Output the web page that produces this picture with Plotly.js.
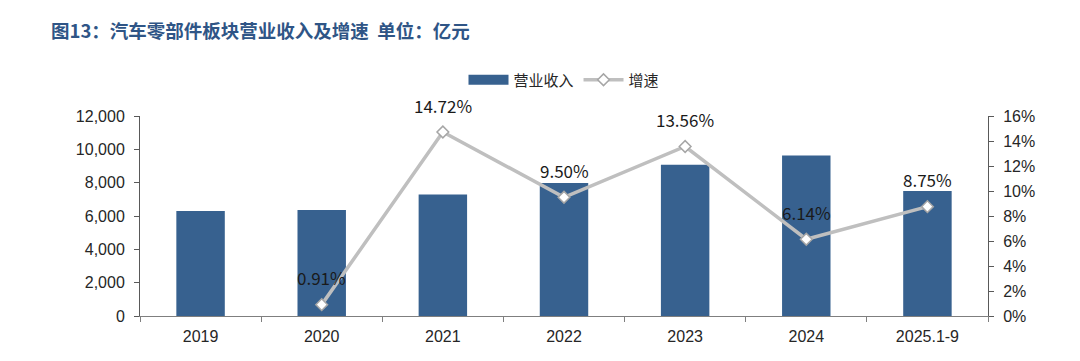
<!DOCTYPE html>
<html>
<head>
<meta charset="utf-8">
<script src="https://cdn.plot.ly/plotly-3.0.1.min.js"></script>
<style>html,body{margin:0;padding:0;background:#fff;}#chart{width:1080px;height:361px;}</style>
</head>
<body>
<div id="chart"></div>
<script>
const categories = ["2019", "2020", "2021", "2022", "2023", "2024", "2025.1-9"];
const revenue = [6300, 6357, 7293, 7986, 9069, 9626, 7500];
const growth = [null, 0.91, 14.72, 9.50, 13.56, 6.14, 8.75];
const growthLabels = ["", "0.91%", "14.72%", "9.50%", "13.56%", "6.14%", "8.75%"];
const leftTicks = [0, 2000, 4000, 6000, 8000, 10000, 12000];
const leftTickText = ["0", "2,000", "4,000", "6,000", "8,000", "10,000", "12,000"];
const rightTicks = [0, 2, 4, 6, 8, 10, 12, 14, 16];
const rightTickText = ["0%", "2%", "4%", "6%", "8%", "10%", "12%", "14%", "16%"];

const barColor = "#37618F";
const tickFont = {family: "Liberation Sans, Arial, sans-serif", size: 16, color: "#262626"};

const traces = [
  {
    type: "bar", name: "营业收入", x: categories, y: revenue, showlegend: false,
    marker: {color: barColor}, yaxis: "y", hoverinfo: "skip"
  },
  {
    type: "scatter", mode: "lines", name: "营业收入", x: [categories[0]], y: [null],
    yaxis: "y", line: {color: barColor, width: 11}, hoverinfo: "skip"
  },
  {
    type: "scatter", mode: "lines+markers", name: "增速", x: categories, y: growth,
    yaxis: "y2", connectgaps: false,
    line: {color: "#BFBFBF", width: 3.5},
    marker: {symbol: "diamond", size: 9, color: "#FFFFFF", line: {color: "#A6A6A6", width: 1.5}},
    hoverinfo: "skip"
  }
];

const annotations = [];
categories.forEach((c, i) => {
  if (growth[i] !== null) {
    annotations.push({
      x: i, y: growth[i], xref: "x", yref: "y2", text: growthLabels[i],
      showarrow: false, yshift: 27,
      font: {family: "Noto Sans CJK SC, Noto Sans, sans-serif", size: 17, color: "#1a1a1a"}
    });
  }
});
annotations.push({
  xref: "paper", yref: "paper", x: -0.107, y: 1.43, xanchor: "left", yanchor: "middle",
  text: "<b>图13：汽车零部件板块营业收入及增速  单位：亿元</b>", showarrow: false,
  font: {family: "Noto Sans CJK SC, sans-serif", size: 18.5, color: "#2F5586"}
});

const layout = {
  width: 1080, height: 361,
  margin: {l: 140, r: 92, t: 116, b: 45},
  paper_bgcolor: "#FFFFFF", plot_bgcolor: "#FFFFFF",
  bargap: 0.6,
  showlegend: true,
  legend: {
    orientation: "h", x: 0.5, xanchor: "center", y: 1.18, yanchor: "middle",
    font: {family: "Noto Sans CJK SC, sans-serif", size: 15, color: "#262626"},
    itemwidth: 40
  },
  xaxis: {
    type: "category", range: [-0.5, categories.length - 0.5], tickfont: tickFont,
    showline: true, linecolor: "#7F7F7F", linewidth: 1, tickangle: 0,
    ticks: "outside", tickson: "boundaries", ticklen: 5, tickcolor: "#7F7F7F",
    ticklabelstandoff: 6,
    showgrid: false, zeroline: false, fixedrange: true
  },
  yaxis: {
    range: [0, 12000], tickvals: leftTicks, ticktext: leftTickText, tickfont: tickFont,
    showline: true, linecolor: "#595959", linewidth: 1, ticks: "outside", ticklen: 5,
    ticklabelstandoff: 6,
    tickcolor: "#595959", showgrid: false, zeroline: false, fixedrange: true
  },
  yaxis2: {
    range: [0, 16], tickvals: rightTicks, ticktext: rightTickText, tickfont: tickFont,
    overlaying: "y", side: "right", showline: true, linecolor: "#595959", linewidth: 1,
    ticks: "outside", ticklen: 5, tickcolor: "#595959", ticklabelstandoff: 6,
    showgrid: false, zeroline: false, fixedrange: true
  },
  annotations: annotations
};

Plotly.newPlot("chart", traces, layout, {displayModeBar: false, staticPlot: true});
</script>
</body>
</html>
